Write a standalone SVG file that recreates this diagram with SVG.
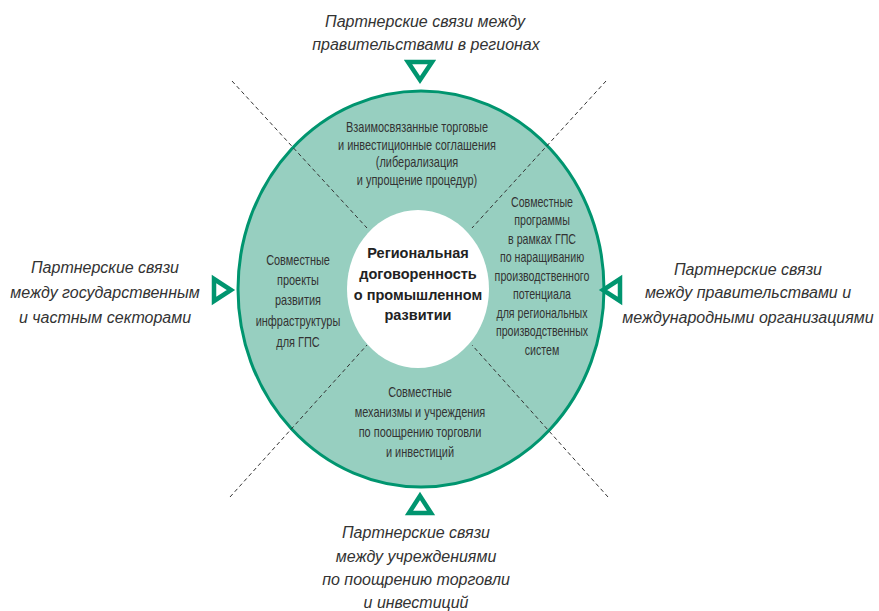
<svg xmlns="http://www.w3.org/2000/svg" width="879" height="611" viewBox="0 0 879 611">
<style>
.lbl{font-family:"Liberation Sans",Arial,sans-serif;font-style:italic;font-size:16px;fill:#333;text-anchor:middle}
.seg{font-family:"Liberation Sans",Arial,sans-serif;font-size:14.6px;fill:#333;text-anchor:middle}
.ctr{font-family:"Liberation Sans",Arial,sans-serif;font-weight:bold;font-size:14.5px;fill:#222;text-anchor:middle}
.tri{fill:none;stroke:#00956f;stroke-width:4.5;stroke-linejoin:miter}
.dash{stroke:#333;stroke-width:1;stroke-dasharray:4 3;fill:none}
</style>
<rect width="879" height="611" fill="#fff"/>
<g id="outer">
<ellipse cx="421" cy="289" rx="183" ry="198" fill="#97cfc0" stroke="#00956f" stroke-width="3"/>
</g>
<g id="connectors">
<line class="dash" x1="232" y1="81" x2="367" y2="228"/>
<line class="dash" x1="606" y1="81" x2="472" y2="228"/>
<line class="dash" x1="230" y1="497" x2="367" y2="345"/>
<line class="dash" x1="608" y1="497" x2="472" y2="345"/>
</g>
<g id="center">
<ellipse cx="418" cy="289" rx="71" ry="79" fill="#fff"/>
<text class="ctr"><tspan x="418" y="258">Региональная</tspan><tspan x="418" y="279">договоренность</tspan><tspan x="418" y="300">о промышленном</tspan><tspan x="418" y="320">развитии</tspan></text>
</g>
<g id="seg-top" transform="translate(417 0) scale(0.75 1)">
<text class="seg"><tspan x="0" y="132">Взаимосвязанные торговые</tspan><tspan x="0" y="150">и инвестиционные  соглашения</tspan><tspan x="0" y="167">(либерализация</tspan><tspan x="0" y="185">и упрощение процедур)</tspan></text>
</g>
<g id="seg-left" transform="translate(298 0) scale(0.75 1)">
<text class="seg"><tspan x="0" y="265">Совместные</tspan><tspan x="0" y="285">проекты</tspan><tspan x="0" y="305">развития</tspan><tspan x="0" y="326">инфраструктуры</tspan><tspan x="0" y="347">для ГПС</tspan></text>
</g>
<g id="seg-right" transform="translate(542 0) scale(0.73 1)">
<text class="seg"><tspan x="0" y="207">Совместные</tspan><tspan x="0" y="225.5">программы</tspan><tspan x="0" y="244">в рамках ГПС</tspan><tspan x="0" y="262.5">по наращиванию</tspan><tspan x="0" y="281">производственного</tspan><tspan x="0" y="299.5">потенциала</tspan><tspan x="0" y="318">для региональных</tspan><tspan x="0" y="336.5">производственных</tspan><tspan x="0" y="355">систем</tspan></text>
</g>
<g id="seg-bottom" transform="translate(420 0) scale(0.75 1)">
<text class="seg"><tspan x="0" y="397">Совместные</tspan><tspan x="0" y="417">механизмы и учреждения</tspan><tspan x="0" y="437">по поощрению торговли</tspan><tspan x="0" y="457">и инвестиций</tspan></text>
</g>
<g id="top-label">
<polygon class="tri" points="408,62 432,62 420,80"/>
<text class="lbl"><tspan x="425" y="27">Партнерские связи между</tspan><tspan x="426" y="50">правительствами в регионах</tspan></text>
</g>
<g id="bottom-label">
<polygon class="tri" points="420,496 431,513 409,513"/>
<text class="lbl"><tspan x="416" y="538">Партнерские связи</tspan><tspan x="416" y="562">между учреждениями</tspan><tspan x="416" y="585">по поощрению торговли</tspan><tspan x="416" y="608">и инвестиций</tspan></text>
</g>
<g id="left-label">
<polygon class="tri" points="214,279 214,301 231,290"/>
<text class="lbl"><tspan x="105" y="273">Партнерские связи</tspan><tspan x="105" y="298">между государственным</tspan><tspan x="105" y="323">и частным секторами</tspan></text>
</g>
<g id="right-label">
<polygon class="tri" points="620,279 620,301 603,290"/>
<text class="lbl"><tspan x="748" y="275">Партнерские связи</tspan><tspan x="748" y="298">между правительствами и</tspan><tspan x="748" y="323">международными организациями</tspan></text>
</g>
</svg>
